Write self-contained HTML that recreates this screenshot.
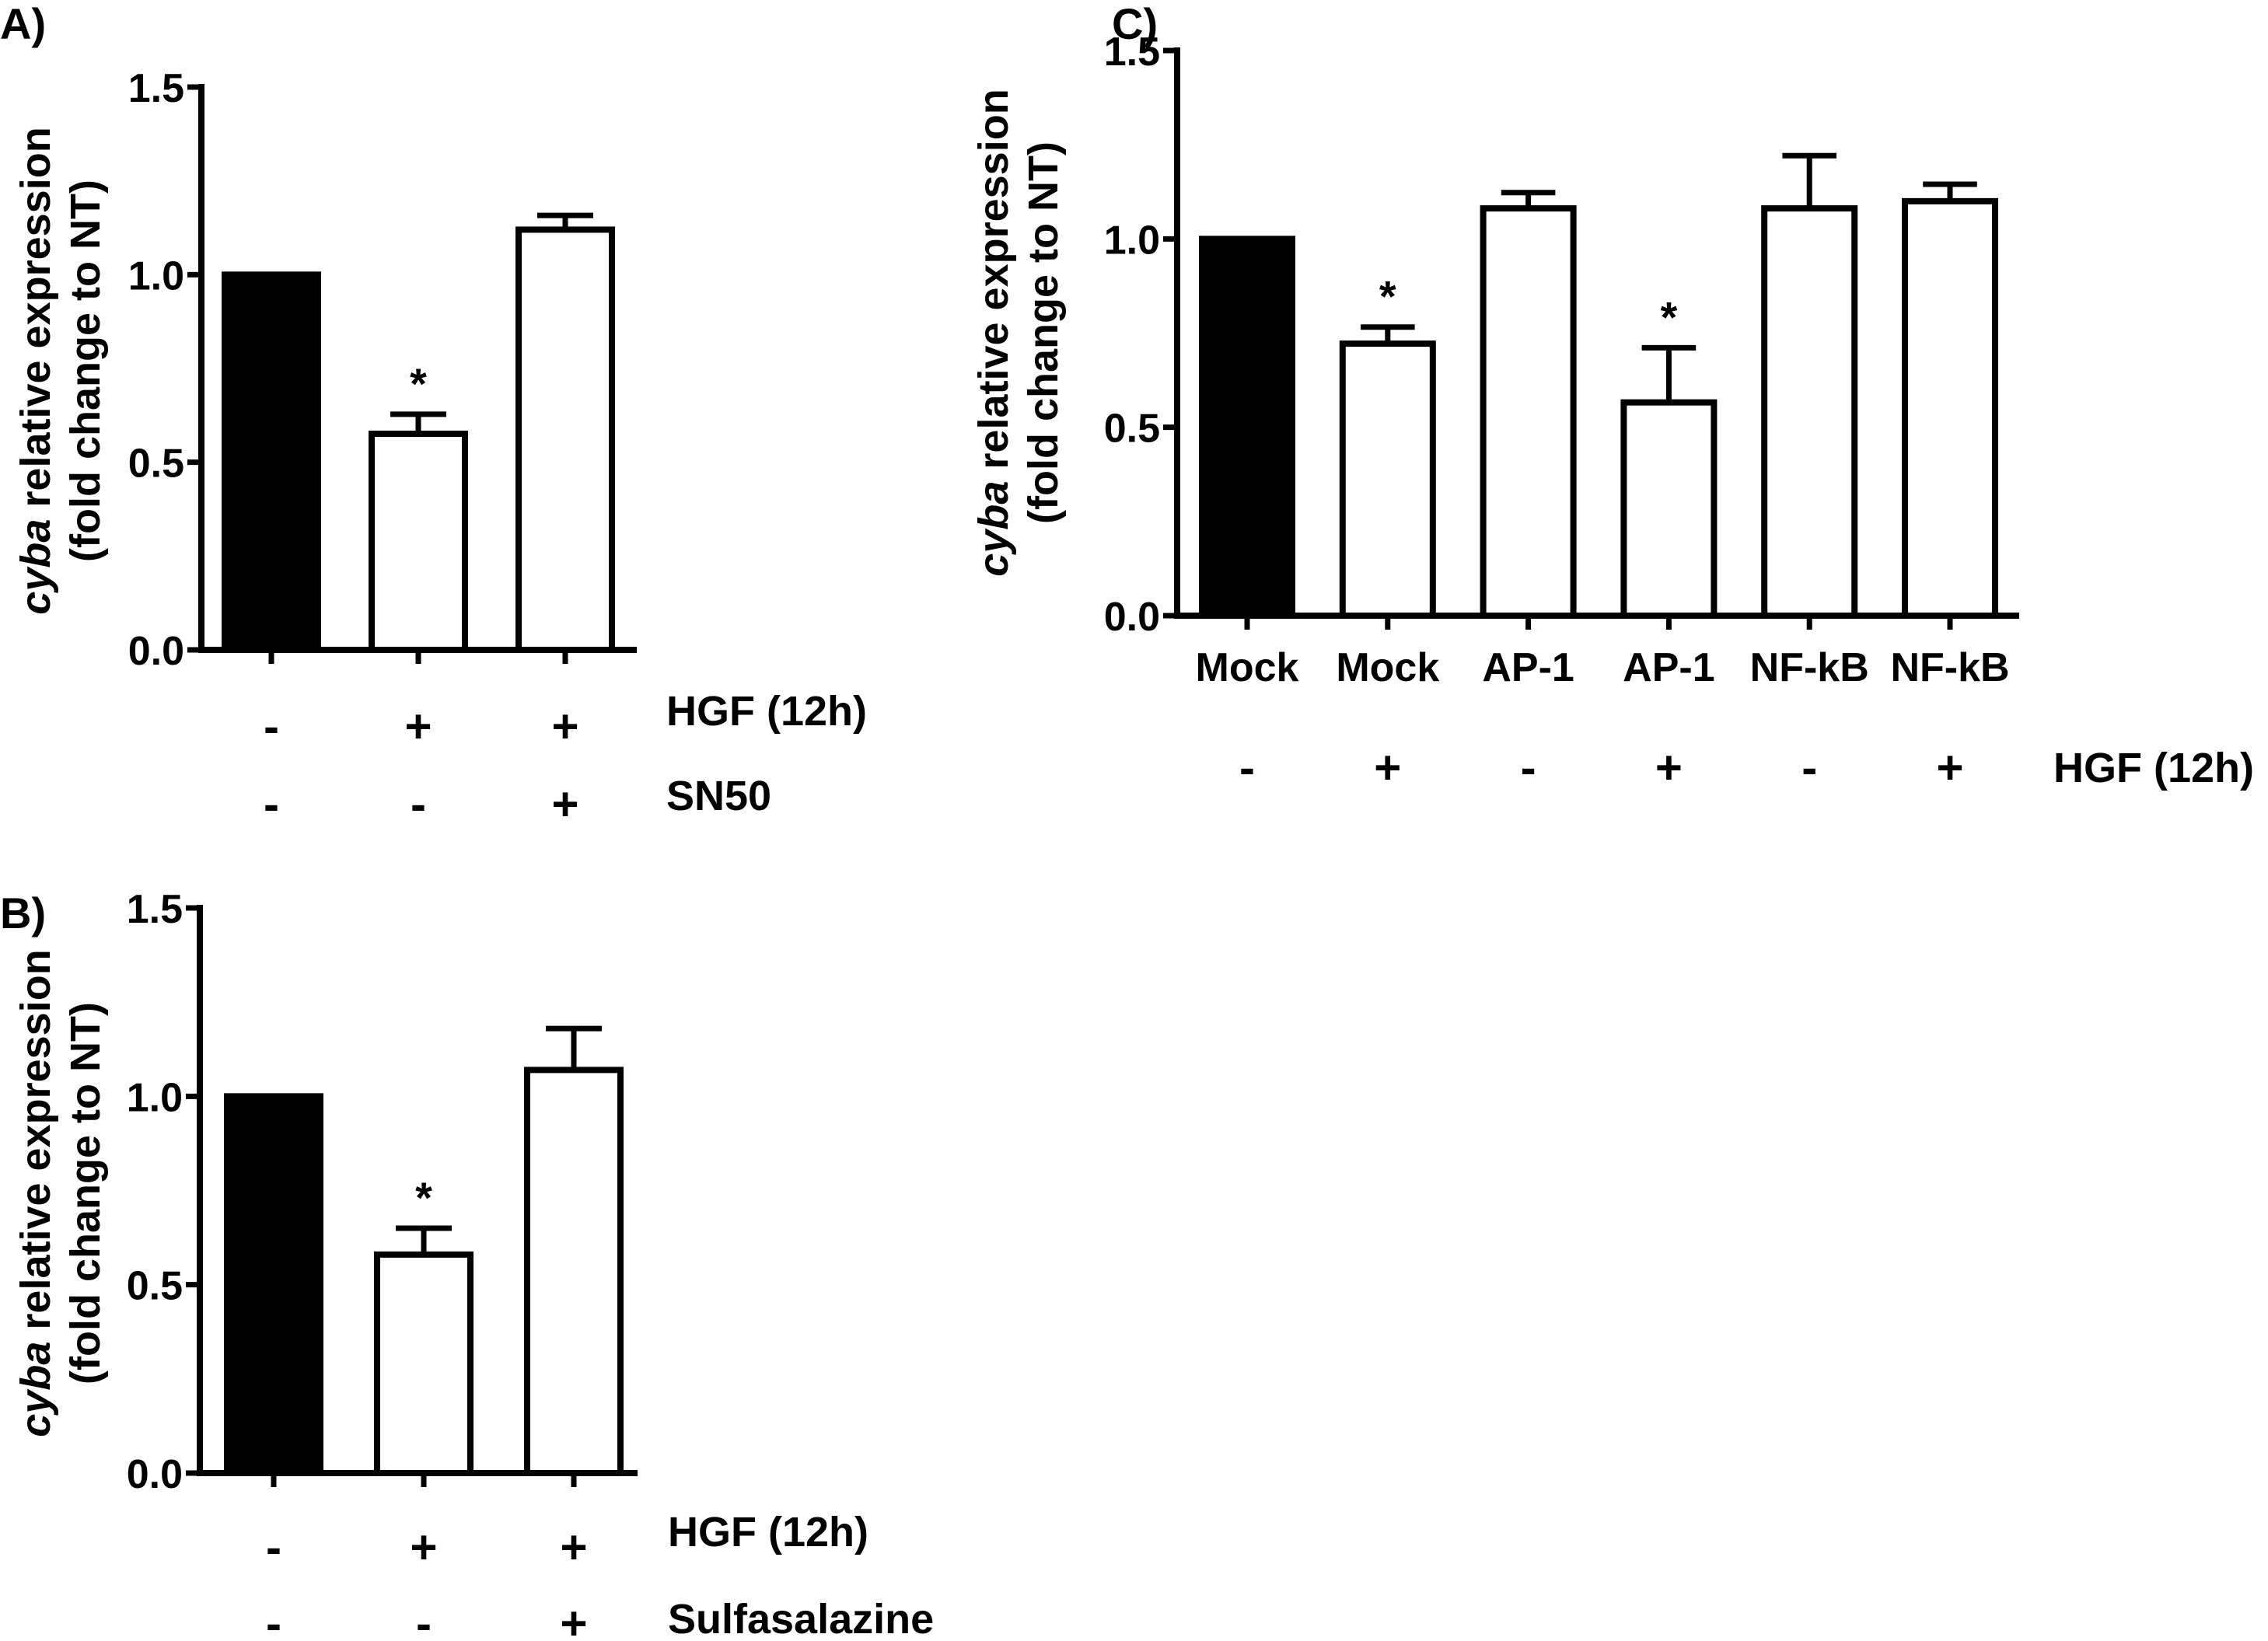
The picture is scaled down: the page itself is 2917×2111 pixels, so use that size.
<!DOCTYPE html>
<html><head><meta charset="utf-8">
<style>
html,body{margin:0;padding:0;background:#fff;}
svg{display:block;}
text{font-family:"Liberation Sans",Arial,sans-serif;font-weight:bold;fill:#000;}
</style></head>
<body>
<svg id="fig" xmlns="http://www.w3.org/2000/svg" width="2917" height="2111" viewBox="0 0 2917 2111"></svg>
<script>
// ---- data ----
const catsA = ["-", "+", "+"];
const sn50Row = ["-", "-", "+"];
const valsA = [1.0, 0.576, 1.12];
const errsA = [0, 0.052, 0.038];
const starsA = [false, true, false];

const catsB = ["-", "+", "+"];
const sulfRow = ["-", "-", "+"];
const valsB = [1.0, 0.58, 1.07];
const errsB = [0, 0.07, 0.11];
const starsB = [false, true, false];

const catsC = ["Mock", "Mock", "AP-1", "AP-1", "NF-kB", "NF-kB"];
const hgfC = ["-", "+", "-", "+", "-", "+"];
const valsC = [1.0, 0.722, 1.081, 0.566, 1.081, 1.10];
const errsC = [0, 0.044, 0.042, 0.145, 0.14, 0.045];
const starsC = [false, true, false, true, false, false];

const yTicks = [0.0, 0.5, 1.0, 1.5];
const yTickLabels = ["0.0", "0.5", "1.0", "1.5"];

const NS = "http://www.w3.org/2000/svg";
const svg = document.getElementById('fig');
function mk(tag, attrs, parent) {
  const e = document.createElementNS(NS, tag);
  for (const k in attrs) e.setAttribute(k, attrs[k]);
  (parent || svg).appendChild(e);
  return e;
}

function panel(p) {
  const g = mk('g', {});
  
  
  const y = v => p.y0 - (v / 1.5) * (p.y0 - p.y15);
  const x = i => p.c0 + i * p.step;
  const L = mk('text', {x: p.lx, y: p.ly, 'font-size': 56}, g);
  L.textContent = p.letter;
  
  
  p.vals.forEach((v, i) => {
    const top = y(v);
    const r = mk('rect', {x: x(i) - p.bw/2, y: top, width: p.bw, height: p.y0 - top,
      fill: i === 0 ? '#000' : '#fff', stroke: '#000', 'stroke-width': 8}, g);
    
    
    if (p.errs[i] > 0) {
      const et = y(v + p.errs[i]);
      const eb = mk('path', {d: `M${x(i)},${top} V${et} M${x(i)-p.bw*0.3},${et} H${x(i)+p.bw*0.3}`,
        stroke: '#000', 'stroke-width': 7, fill: 'none'}, g);
      
      
    }
    if (p.stars[i]) {
      const st = mk('text', {x: x(i), y: y(v + p.errs[i]) - 20, 'font-size': 56, 'text-anchor': 'middle'}, g);
      st.textContent = '*';
      
      
    }
  });
  const ax = mk('path', {d: `M${p.ax},${p.y15-4} V${p.y0} H${p.xend}`, stroke: '#000', 'stroke-width': 8, fill: 'none'}, g);
  
  
  yTicks.forEach((t, i) => {
    const tk = mk('line', {x1: p.ax - 18, x2: p.ax, y1: y(t), y2: y(t), stroke: '#000', 'stroke-width': 7}, g);
    
    
    const tl = mk('text', {x: p.ax - 22, y: y(t) + 19, 'font-size': 52, 'text-anchor': 'end'}, g);
    tl.textContent = yTickLabels[i];
    
    
  });
  p.vals.forEach((v, i) => {
    const tk = mk('line', {x1: x(i), x2: x(i), y1: p.y0, y2: p.y0 + 18, stroke: '#000', 'stroke-width': 7}, g);
    
    
  });
  const tt = mk('text', {'font-size': 54, 'text-anchor': 'middle',
    transform: `translate(${p.tx},${p.ty}) rotate(-90)`}, g);
  
  
  const t1 = mk('tspan', {x: 0, y: 0, 'font-style': 'italic'}, tt); t1.textContent = 'cyba';
  const t2 = mk('tspan', {}, tt); t2.textContent = ' relative expression';
  const t3 = mk('tspan', {x: 0, y: 64}, tt); t3.textContent = '(fold change to NT)';
  p.rows.forEach(row => {
    row.items.forEach((s, i) => {
      const t = mk('text', {x: x(i), y: row.y, 'font-size': row.fs || 60, 'text-anchor': 'middle'}, g);
      t.textContent = s;
      
      
    });
    if (row.label) {
      const t = mk('text', {x: p.rlx, y: row.ly, 'font-size': 54}, g);
      t.textContent = row.label;
      
      
    }
  });
}

panel({name: 'panel-a', letter: 'A)', lx: 0, ly: 50, ax: 259, y0: 836, y15: 112, c0: 349, step: 189, bw: 120, xend: 819,
  vals: valsA, errs: errsA, stars: starsA, tx: 64, ty: 477, rlx: 857,
  rows: [{items: catsA, y: 955, label: 'HGF (12h)', ly: 933}, {items: sn50Row, y: 1055, label: 'SN50', ly: 1042}]});

panel({name: 'panel-b', letter: 'B)', lx: 0, ly: 1194, ax: 257, y0: 1895, y15: 1168, c0: 352, step: 193, bw: 120, xend: 820,
  vals: valsB, errs: errsB, stars: starsB, tx: 64, ty: 1535, rlx: 859,
  rows: [{items: catsB, y: 2011, label: 'HGF (12h)', ly: 1989}, {items: sulfRow, y: 2109, label: 'Sulfasalazine', ly: 2101}]});

panel({name: 'panel-c', letter: 'C)', lx: 1430, ly: 50, ax: 1514, y0: 792, y15: 65, c0: 1604, step: 180.8, bw: 116, xend: 2597,
  vals: valsC, errs: errsC, stars: starsC, tx: 1296, ty: 428, rlx: 2641,
  rows: [{items: catsC, y: 876, fs: 52}, {items: hgfC, y: 1008, label: 'HGF (12h)', ly: 1006}]});
</script>
</body></html>
